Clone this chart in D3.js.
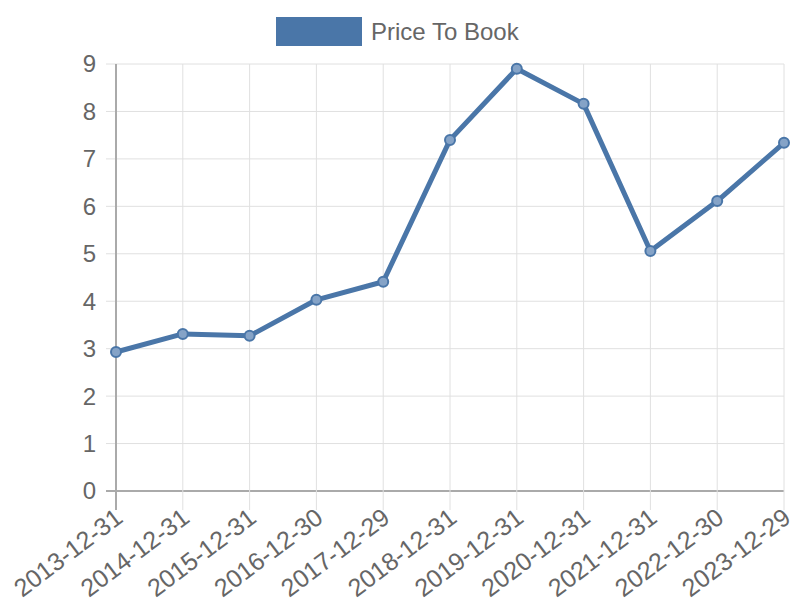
<!DOCTYPE html>
<html>
<head>
<meta charset="utf-8">
<script src="https://cdn.jsdelivr.net/npm/d3@7"></script>
<style>
  body { margin: 0; background: #fff; }
  text { font-family: "Liberation Sans", Arial, sans-serif; fill: #666; }
</style>
</head>
<body>
<svg id="chart" width="800" height="600"></svg>
<script>
// data
const dates = ["2013-12-31", "2014-12-31", "2015-12-31", "2016-12-30", "2017-12-29", "2018-12-31",
  "2019-12-31", "2020-12-31", "2021-12-31", "2022-12-30", "2023-12-29"];
const priceToBook = [2.93, 3.31, 3.27, 4.03, 4.41, 7.40, 8.90, 8.16, 5.06, 6.11, 7.34];
const yTicks = [0, 1, 2, 3, 4, 5, 6, 7, 8, 9];
const seriesName = "Price To Book";

const svg = d3.select("#chart");
const plotLeft = 116, plotRight = 784, plotTop = 64, plotBottom = 491;
const lineColor = "#4a76a8";

const x = d3.scalePoint().domain(dates).range([plotLeft, plotRight]);
const y = d3.scaleLinear().domain([0, 9]).range([plotBottom, plotTop]);

// grid
svg.append("g").selectAll("line")
  .data(yTicks)
  .enter().append("line")
  .attr("x1", plotLeft - 10).attr("x2", plotRight)
  .attr("y1", d => y(d)).attr("y2", d => y(d))
  .attr("stroke", d => d === 0 ? "#aaa" : "#e0e0e0")
  .attr("stroke-width", d => d === 0 ? 2 : 1);

svg.append("g").selectAll("line")
  .data(dates)
  .enter().append("line")
  .attr("x1", d => x(d)).attr("x2", d => x(d))
  .attr("y1", plotTop).attr("y2", plotBottom + 19)
  .attr("stroke", (d, i) => i === 0 ? "#aaa" : "#e0e0e0")
  .attr("stroke-width", (d, i) => i === 0 ? 2 : 1);

// y labels
svg.append("g").selectAll("text")
  .data(yTicks)
  .enter().append("text")
  .attr("x", plotLeft - 20)
  .attr("y", d => y(d))
  .attr("dy", "0.35em")
  .attr("text-anchor", "end")
  .attr("font-size", 24)
  .text(d => d);

// x labels, rotated
svg.append("g").selectAll("text")
  .data(dates)
  .enter().append("text")
  .attr("transform", d => `translate(${x(d) + 3},${plotBottom + 23}) rotate(-37)`)
  .attr("text-anchor", "end")
  .attr("dy", "0.35em")
  .attr("font-size", 25)
  .text(d => d);

// line
const line = d3.line()
  .x((d, i) => x(dates[i]))
  .y(d => y(d));

svg.append("path")
  .datum(priceToBook)
  .attr("d", line)
  .attr("fill", "none")
  .attr("stroke", lineColor)
  .attr("stroke-width", 5)
  .attr("stroke-linejoin", "round");

svg.append("g").selectAll("circle")
  .data(priceToBook)
  .enter().append("circle")
  .attr("cx", (d, i) => x(dates[i]))
  .attr("cy", d => y(d))
  .attr("r", 5)
  .attr("fill", "#85a3c7")
  .attr("stroke", lineColor)
  .attr("stroke-width", 2);

// legend
svg.append("rect")
  .attr("x", 276).attr("y", 17)
  .attr("width", 86).attr("height", 29)
  .attr("fill", lineColor);
svg.append("text")
  .attr("x", 371).attr("y", 32)
  .attr("dy", "0.35em")
  .attr("font-size", 24)
  .text(seriesName);
</script>
</body>
</html>
